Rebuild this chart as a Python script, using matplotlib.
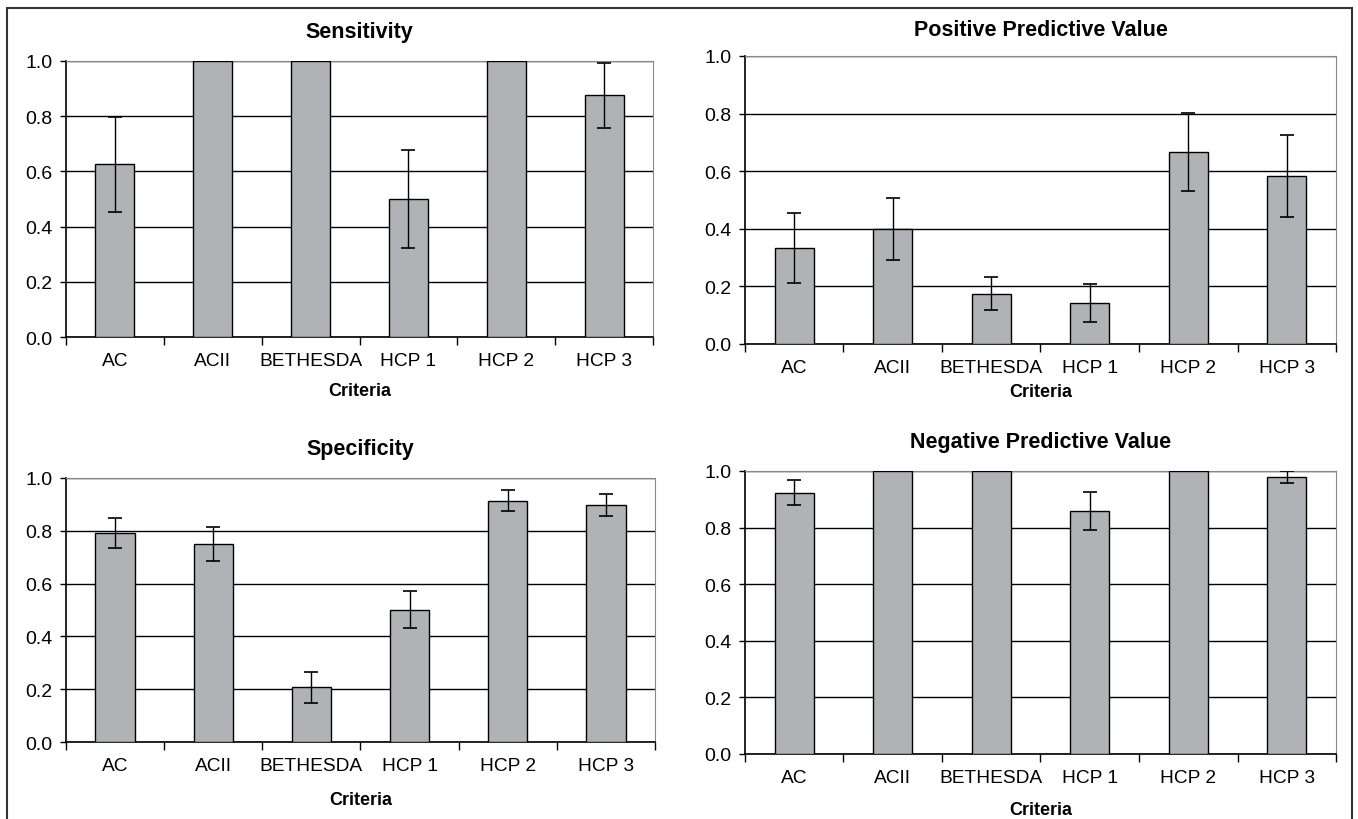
import matplotlib.pyplot as plt
import numpy as np
from matplotlib.patches import Rectangle

plt.rcParams['font.family'] = ['Liberation Sans', 'DejaVu Sans']

criteria = ["AC", "ACII", "BETHESDA", "HCP 1", "HCP 2", "HCP 3"]

sens = [0.625, 1.0, 1.0, 0.5, 1.0, 0.875]
sens_err = [0.171, 0.0, 0.0, 0.176, 0.0, 0.119]

ppv = [0.333, 0.4, 0.175, 0.143, 0.667, 0.583]
ppv_err = [0.121, 0.108, 0.057, 0.066, 0.136, 0.143]

spec = [0.793, 0.75, 0.207, 0.5, 0.914, 0.897]
spec_err = [0.057, 0.064, 0.058, 0.070, 0.040, 0.042]

npv = [0.923, 1.0, 1.0, 0.857, 1.0, 0.978]
npv_err = [0.044, 0.0, 0.0, 0.067, 0.0, 0.021]

# title, values, errors, axes rect, title y, "Criteria" y
panels = [
    ("Sensitivity", sens, sens_err, [0.0486, 0.5878, 0.4323, 0.3366], 0.960, 0.523),
    ("Positive Predictive Value", ppv, ppv_err, [0.5486, 0.5793, 0.4352, 0.3512], 0.963, 0.521),
    ("Specificity", spec, spec_err, [0.0486, 0.0939, 0.4337, 0.3220], 0.452, 0.024),
    ("Negative Predictive Value", npv, npv_err, [0.5486, 0.0793, 0.4352, 0.3451], 0.460, 0.012),
]

fig = plt.figure(figsize=(13.58, 8.20), dpi=100)
fig.patches.append(Rectangle((7 / 1358, -0.01), 1345 / 1358, 1.0 - 9 / 820 + 0.01,
                             transform=fig.transFigure, fill=False,
                             edgecolor="#333333", linewidth=1.5))

x = np.arange(len(criteria))
for title, vals, err, pos, ty, cy in panels:
    ax = fig.add_axes(pos)
    ax.bar(x, vals, width=0.4, color="#b1b2b6", edgecolor="black", linewidth=1, zorder=3)
    ax.errorbar(x, vals, yerr=err, fmt="none", ecolor="black", elinewidth=1,
                capsize=5, capthick=1.2, zorder=4)
    ax.set_xlim(-0.5, len(criteria) - 0.5)
    ax.set_ylim(0, 1.0)
    ax.set_yticks(np.arange(0, 1.01, 0.2))
    ax.set_yticklabels(["%.1f" % v for v in np.arange(0, 1.01, 0.2)], fontsize=14)
    ax.yaxis.grid(True, color="black", linewidth=1)
    ax.set_axisbelow(True)
    ax.set_xticks(x)
    ax.set_xticklabels(criteria, fontsize=13.8)
    ax.set_xticks(np.arange(-0.5, len(criteria)), minor=True)
    ax.tick_params(axis="x", which="major", length=0, pad=11)
    ax.tick_params(axis="x", which="minor", length=6, width=1, direction="out")
    ax.tick_params(axis="y", length=4, width=1, direction="out", pad=5.5)
    for s in ["top", "right"]:
        ax.spines[s].set_color("#888888")
    for s in ["left", "bottom"]:
        ax.spines[s].set_color("black")
        ax.spines[s].set_linewidth(1.2)
    fig.text(pos[0] + pos[2] / 2, ty, title, ha="center", va="center",
             fontsize=15.5, fontweight="bold")
    fig.text(pos[0] + pos[2] / 2, cy, "Criteria", ha="center", va="center",
             fontsize=13, fontweight="bold")

plt.savefig("out.png", dpi=100)
